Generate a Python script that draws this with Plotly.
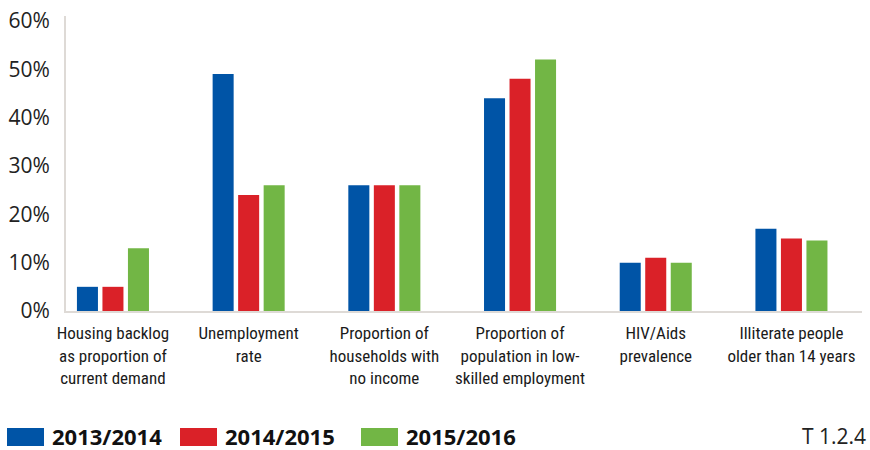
import plotly.graph_objects as go

# Indicator categories (line breaks as printed under each group)
categories = [
    "Housing backlog<br>as proportion of<br>current demand",
    "Unemployment<br>rate",
    "Proportion of<br>households with<br>no income",
    "Proportion of<br>population in low-<br>skilled employment",
    "HIV/Aids<br>prevalence",
    "Illiterate people<br>older than 14 years",
]

# Values in percent per financial year
series_names = ["2013/2014", "2014/2015", "2015/2016"]
values_2013_2014 = [5, 49, 26, 44, 10, 17]
values_2014_2015 = [5, 24, 26, 48, 11, 15]
values_2015_2016 = [13, 26, 26, 52, 10, 14.6]
series_values = [values_2013_2014, values_2014_2015, values_2015_2016]
series_colors = ["#0054A6", "#DA2128", "#72B645"]

y_ticks = [0, 10, 20, 30, 40, 50, 60]
y_ticktext = [f"{v}%" for v in y_ticks]

W, H = 870, 450
M_L, M_R, M_T, M_B = 66, 8, 16, 139
PW, PH = W - M_L - M_R, H - M_T - M_B

def px_x(x):
    return (x - M_L) / PW

def px_y(y):
    return (H - M_B - y) / PH

positions = list(range(len(categories)))

fig = go.Figure()
for name, vals, col in zip(series_names, series_values, series_colors):
    fig.add_trace(go.Bar(
        x=positions, y=vals, name=name,
        marker=dict(color=col, line=dict(width=0)),
        showlegend=False,
    ))

label_font = dict(family="Roboto Condensed, Liberation Sans Narrow, DejaVu Sans Condensed, Lato, sans-serif",
                  size=17, color="#1a1a1a")

fig.update_layout(
    width=W, height=H,
    margin=dict(l=M_L, r=M_R, t=M_T, b=M_B, pad=0),
    paper_bgcolor="white", plot_bgcolor="white",
    barmode="group", bargap=0.436, bargroupgap=0.176,
    xaxis=dict(
        range=[-0.346, 5.52],
        tickmode="array", tickvals=positions, ticktext=categories,
        tickfont=label_font, ticks="", showgrid=False, zeroline=False,
        showline=True, linecolor="#dedad6", linewidth=2,
        ticklabelstandoff=6, tickangle=0, ticklabeloverflow="allow",
        automargin=False,
    ),
    yaxis=dict(
        range=[0, 61],
        tickmode="array", tickvals=y_ticks, ticktext=y_ticktext,
        tickfont=dict(family="Open Sans, sans-serif", size=21, color="#222222"),
        ticks="", showgrid=False, zeroline=False,
        showline=True, linecolor="#dedad6", linewidth=2,
        ticklabelstandoff=10, automargin=False,
    ),
)

# Legend: coloured blocks with bold year labels along the bottom
legend_items = [
    (7, 44, 51),
    (180, 217, 224),
    (361, 398, 405),
]
for (x0, x1, tx), name, col in zip(legend_items, series_names, series_colors):
    fig.add_shape(type="rect", xref="paper", yref="paper",
                  x0=px_x(x0), x1=px_x(x1), y0=px_y(446), y1=px_y(428),
                  fillcolor=col, line=dict(width=0), layer="above")
    fig.add_annotation(xref="paper", yref="paper", x=px_x(tx), y=px_y(436),
                       xanchor="left", yanchor="middle", showarrow=False,
                       borderpad=0,
                       text=f"<b>{name}</b>",
                       font=dict(family="Open Sans, sans-serif", size=22, color="#111111"))

fig.add_annotation(xref="paper", yref="paper", x=px_x(867), y=px_y(436),
                   xanchor="right", yanchor="middle", showarrow=False,
                   borderpad=0,
                   text="T 1.2.4",
                   font=dict(family="Open Sans, sans-serif", size=21, color="#222222"))

fig.write_html("out.html")
